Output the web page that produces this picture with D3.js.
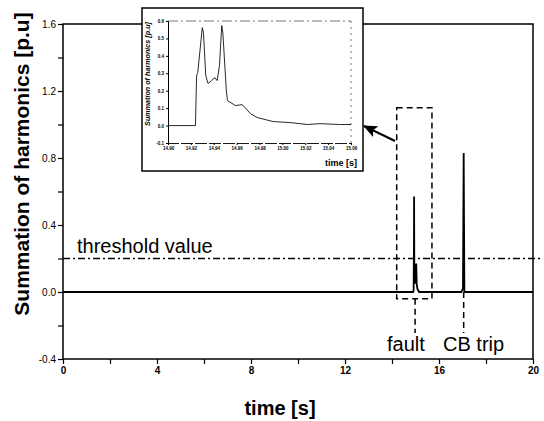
<!DOCTYPE html>
<html>
<head>
<meta charset="utf-8">
<script src="https://cdn.jsdelivr.net/npm/d3@7"></script>
<style>
  body { margin: 0; background: #fff; }
  svg { display: block; font-family: Arial, 'Liberation Sans', sans-serif; }
</style>
</head>
<body>
<div id="chart"></div>
<script>
// main trace: time [s] vs summation of harmonics [p.u]
const mainTime = [0, 14.90, 14.92, 14.935, 14.94, 14.95, 14.97, 15.0, 15.03, 15.05, 15.08, 15.15, 16.95, 17.02, 17.05, 17.08, 20];
const mainValue = [0, 0, 0.01, 0.30, 0.57, 0.12, 0.05, 0.09, 0.17, 0.05, 0.02, 0, 0, 0.02, 0.83, 0, 0];

// zoomed trace shown in the inset
const insetTime = [14.900, 14.924, 14.925, 14.926, 14.930, 14.931, 14.933, 14.935, 14.938, 14.941, 14.943, 14.945, 14.947, 14.948, 14.951, 14.952, 14.959, 14.965, 14.972, 14.978, 14.992, 15.007, 15.022, 15.033, 15.050, 15.060];
const insetValue = [0, 0, 0.287, 0.304, 0.562, 0.534, 0.287, 0.241, 0.258, 0.275, 0.258, 0.344, 0.574, 0.528, 0.201, 0.143, 0.115, 0.120, 0.069, 0.046, 0.023, 0.017, 0.006, 0.011, 0.006, 0.006];

const xTicks = [0, 2, 4, 6, 8, 10, 12, 14, 16, 18, 20];
const yTicks = [-0.4, -0.2, 0, 0.2, 0.4, 0.6, 0.8, 1.0, 1.2, 1.4, 1.6];
const insetXTicks = [14.90, 14.92, 14.94, 14.96, 14.98, 15.00, 15.02, 15.04, 15.06];
const insetYTicks = [-0.1, 0, 0.1, 0.2, 0.3, 0.4, 0.5, 0.6];

const threshold = 0.2;
const faultTime = 14.94;
const tripTime = 17.05;

const width = 544, height = 421;
const svg = d3.select('#chart').append('svg')
  .attr('width', width).attr('height', height);

const x = d3.scaleLinear().domain([0, 20]).range([63, 533]);
const y = d3.scaleLinear().domain([-0.4, 1.6]).range([359, 24]);

const defs = svg.append('defs');
defs.append('marker')
  .attr('id', 'arrow')
  .attr('markerUnits', 'userSpaceOnUse')
  .attr('markerWidth', 14).attr('markerHeight', 12)
  .attr('viewBox', '0 0 14 12')
  .attr('refX', 13).attr('refY', 6)
  .attr('orient', 'auto')
  .append('path').attr('d', 'M0,0 L14,6 L0,12 L3,6 Z').attr('fill', '#000');

// frame
svg.append('rect')
  .attr('x', x(0)).attr('y', y(1.6))
  .attr('width', x(20) - x(0)).attr('height', y(-0.4) - y(1.6))
  .attr('fill', 'none').attr('stroke', '#000').attr('stroke-width', 1.5);

// axes
const fmtY = v => d3.format('.1f')(v).replace('\u2212', '-');
const xAxis = d3.axisBottom(x).tickValues(xTicks).tickSize(5).tickPadding(3)
  .tickFormat(d => d % 4 === 0 ? d : '');
const gx = svg.append('g').attr('transform', `translate(0,${y(-0.4)})`).call(xAxis);
gx.select('.domain').remove();
gx.selectAll('text').attr('font-size', 10).attr('font-weight', 'bold').attr('font-family', 'Arial, Liberation Sans');
gx.selectAll('line').attr('stroke-width', 1.2);

const yAxis = d3.axisLeft(y).tickValues(yTicks).tickSize(5).tickPadding(2)
  .tickFormat(d => Math.abs(Math.round(d * 10) % 4) === 0 ? fmtY(d) : '');
const gy = svg.append('g').attr('transform', `translate(${x(0)},0)`).call(yAxis);
gy.select('.domain').remove();
gy.selectAll('text').attr('font-size', 10).attr('font-family', 'Arial, Liberation Sans');
gy.selectAll('line').attr('stroke-width', 1.2);

// threshold line
svg.append('line')
  .attr('x1', x(0)).attr('x2', x(20) + 8)
  .attr('y1', y(threshold)).attr('y2', y(threshold))
  .attr('stroke', '#000').attr('stroke-width', 1.3)
  .attr('stroke-dasharray', '7,3,2,3');
svg.append('text')
  .attr('x', 77).attr('y', y(threshold) - 6)
  .attr('font-size', 20).text('threshold value');

// main trace
const line = d3.line().x(d => x(d[0])).y(d => y(d[1]));
svg.append('path')
  .datum(mainTime.map((t, i) => [t, mainValue[i]]))
  .attr('d', line)
  .attr('fill', 'none').attr('stroke', '#000').attr('stroke-width', 1.8);

// zoom box around fault
svg.append('rect')
  .attr('x', x(14.2)).attr('y', y(1.1))
  .attr('width', x(15.7) - x(14.2)).attr('height', y(-0.04) - y(1.1))
  .attr('fill', 'none').attr('stroke', '#000').attr('stroke-width', 1.5)
  .attr('stroke-dasharray', '6,4');

// event markers
svg.append('line')
  .attr('x1', x(faultTime) + 1).attr('x2', x(faultTime) + 1)
  .attr('y1', y(-0.04)).attr('y2', 333)
  .attr('stroke', '#000').attr('stroke-width', 1.5).attr('stroke-dasharray', '6,4');
svg.append('line')
  .attr('x1', x(tripTime)).attr('x2', x(tripTime))
  .attr('y1', y(0)).attr('y2', 333)
  .attr('stroke', '#000').attr('stroke-width', 1.5).attr('stroke-dasharray', '6,4');
svg.append('text').attr('x', 387).attr('y', 351).attr('font-size', 20).text('fault');
svg.append('text').attr('x', 443).attr('y', 351).attr('font-size', 20).text('CB trip');

// axis titles
svg.append('text')
  .attr('transform', `translate(29,164) rotate(-90)`)
  .attr('text-anchor', 'middle').attr('font-size', 21).attr('font-weight', 'bold')
  .text('Summation of harmonics [p.u]');
svg.append('text')
  .attr('x', 280).attr('y', 415)
  .attr('text-anchor', 'middle').attr('font-size', 20).attr('font-weight', 'bold')
  .text('time [s]');

// inset
const inset = svg.append('g');
inset.append('rect')
  .attr('x', 142).attr('y', 8).attr('width', 221).attr('height', 163)
  .attr('fill', '#fff').attr('stroke', '#000').attr('stroke-width', 1.5);

const ix = d3.scaleLinear().domain([14.90, 15.06]).range([168, 351]);
const iy = d3.scaleLinear().domain([-0.1, 0.6]).range([143, 21]);

inset.append('line')
  .attr('x1', ix(14.90)).attr('x2', ix(15.06)).attr('y1', iy(0.6)).attr('y2', iy(0.6))
  .attr('stroke', '#555').attr('stroke-width', 0.8).attr('stroke-dasharray', '10,3,2,3');
inset.append('line')
  .attr('x1', ix(15.06)).attr('x2', ix(15.06)).attr('y1', iy(0.6)).attr('y2', iy(-0.1))
  .attr('stroke', '#555').attr('stroke-width', 0.8).attr('stroke-dasharray', '2,4');

const fmtIX = d3.format('.2f');
const ixAxis = d3.axisBottom(ix).tickValues(insetXTicks).tickSize(2).tickPadding(2)
  .tickFormat(fmtIX);
const gix = inset.append('g').attr('transform', `translate(0,${iy(-0.1)})`).call(ixAxis);
gix.select('.domain').attr('stroke-width', 0.9).attr('stroke-dasharray', '12,2');
gix.selectAll('text').attr('font-size', 4.5).attr('font-family', 'Arial, Liberation Sans').attr('font-weight', 'bold');

const iyAxis = d3.axisLeft(iy).tickValues(insetYTicks).tickSize(2).tickPadding(2)
  .tickFormat(fmtY);
const giy = inset.append('g').attr('transform', `translate(${ix(14.90)},0)`).call(iyAxis);
giy.select('.domain').attr('stroke-width', 1);
giy.selectAll('text').attr('font-size', 4.5).attr('font-family', 'Arial, Liberation Sans').attr('font-weight', 'bold');

const iline = d3.line().x(d => ix(d[0])).y(d => iy(d[1]));
inset.append('path')
  .datum(insetTime.map((t, i) => [t, insetValue[i]]))
  .attr('d', iline)
  .attr('fill', 'none').attr('stroke', '#111').attr('stroke-width', 0.9);

inset.append('text')
  .attr('transform', `translate(150,74) rotate(-90)`)
  .attr('text-anchor', 'middle').attr('font-size', 7.2).attr('font-weight', 'bold').attr('font-style', 'italic')
  .text('Summation of harmonics [p.u]');
inset.append('text')
  .attr('x', 357).attr('y', 166)
  .attr('text-anchor', 'end').attr('font-size', 9).attr('font-weight', 'bold')
  .text('time [s]');

// arrow from zoom box to inset
svg.append('line')
  .attr('x1', 395).attr('y1', 141).attr('x2', 364).attr('y2', 126)
  .attr('stroke', '#000').attr('stroke-width', 2)
  .attr('marker-end', 'url(#arrow)');
</script>
</body>
</html>
